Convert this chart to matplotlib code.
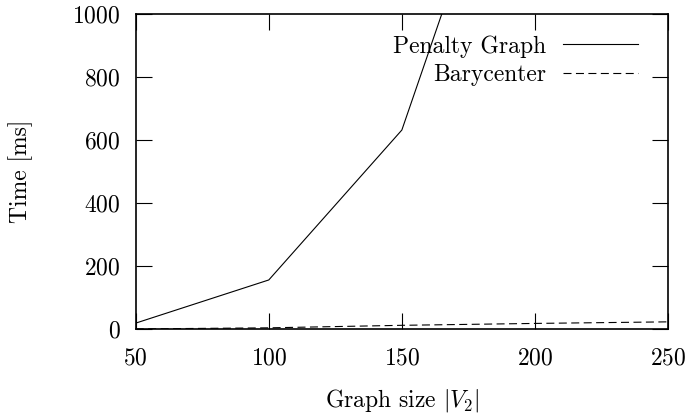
import matplotlib
matplotlib.use("Agg")
import matplotlib.pyplot as plt

plt.rcParams['font.family'] = ['cmr10', 'DejaVu Serif']
plt.rcParams['mathtext.fontset'] = 'cm'
plt.rcParams['axes.unicode_minus'] = False
plt.rcParams['axes.formatter.use_mathtext'] = True

sizes = [50, 100, 150, 200, 250]
penalty_ms = [19, 156, 632, 1860, 4000]
barycenter_ms = [0.5, 4, 12, 18, 23]

x_ticks = [50, 100, 150, 200, 250]
y_ticks = [0, 200, 400, 600, 800, 1000]

fig = plt.figure(figsize=(6.89, 4.15), dpi=100)
ax = fig.add_axes([0.197, 0.207, 0.7725, 0.759])

ax.plot(sizes, penalty_ms, color='black', linewidth=0.8, label='Penalty Graph')
ax.plot(sizes, barycenter_ms, color='black', linewidth=0.8, linestyle=(0, (7.2, 4)),
        label='Barycenter')

ax.set_xlim(50, 250)
ax.set_ylim(0, 1000)
ax.set_xticks(x_ticks)
ax.set_yticks(y_ticks)
ax.tick_params(direction='in', top=True, right=True, length=11.5, width=0.8,
               labelsize=17)
ax.tick_params(axis='y', pad=11)
ax.tick_params(axis='x', pad=13)
for s in ax.spines.values():
    s.set_linewidth(1.2)

ax.set_xlabel(r'Graph size $|V_2|$', fontsize=17, labelpad=13)
ax.set_ylabel('Time [ms]', fontsize=17, labelpad=28)

ax.legend(loc='upper right', frameon=False, markerfirst=False, fontsize=17,
          handlelength=3.2, handletextpad=0.7, labelspacing=0.28,
          borderaxespad=0.0, bbox_to_anchor=(0.962, 0.963))

fig.savefig('out.png', dpi=100)
